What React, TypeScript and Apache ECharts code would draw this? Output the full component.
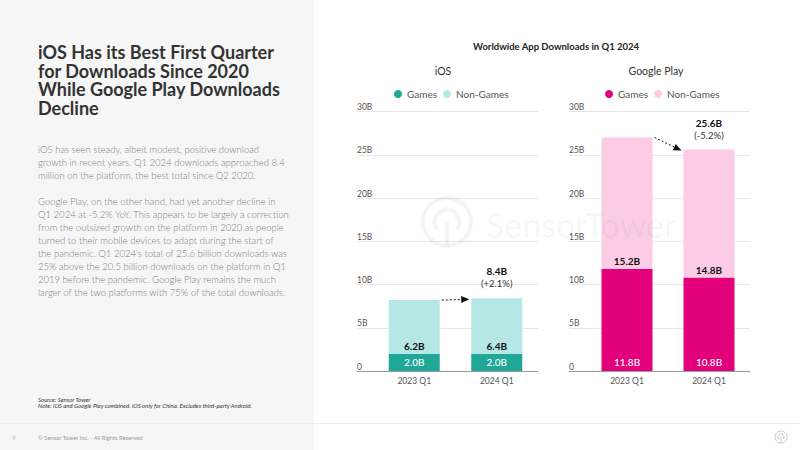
import React, { useEffect, useRef } from 'react';
import * as echarts from 'echarts';

const categories = ['2023 Q1', '2024 Q1'];
const iosGames = [2.0, 2.0];
const iosNonGames = [6.2, 6.4];
const iosChange = '+2.1%';
const gpGames = [11.8, 10.8];
const gpNonGames = [15.2, 14.8];
const gpChange = '-5.2%';
const yMin = 0;
const yMax = 30;
const yInterval = 5;

const titleLines = [
  'iOS Has its Best First Quarter',
  'for Downloads Since 2020',
  'While Google Play Downloads',
  'Decline',
];
const para1 = [
  'iOS has seen steady, albeit modest, positive download',
  'growth in recent years. Q1 2024 downloads approached 8.4',
  'million on the platform, the best total since Q2 2020.',
];
const para2 = [
  'Google Play, on the other hand, had yet another decline in',
  'Q1 2024 at -5.2% YoY. This appears to be largely a correction',
  'from the outsized growth on the platform in 2020 as people',
  'turned to their mobile devices to adapt during the start of',
  "the pandemic. Q1 2024's total of 25.6 billion downloads was",
  '25% above the 20.5 billion downloads on the platform in Q1',
  '2019 before the pandemic. Google Play remains the much',
  'larger of the two platforms with 75% of the total downloads.',
];
const notes = [
  'Source: Sensor Tower',
  'Note: iOS and Google Play combined. iOS only for China. Excludes third-party Android.',
];

const FONT = 'Lato, "Noto Sans", sans-serif';
const BAR_W = 51;
const PLOT_TOP = 111.5;
const PLOT_H = 259.5;

const colors = {
  iosGames: '#1fa898',
  iosNon: '#b5e8e4',
  gpGames: '#e2007b',
  gpNon: '#fccce6',
};

function yAxisVisible(gridIndex: number) {
  return {
    type: 'value',
    gridIndex,
    min: yMin,
    max: yMax,
    interval: yInterval,
    axisLine: { show: false },
    axisTick: { show: false },
    splitLine: { lineStyle: { color: '#e6e6e6', width: 1 } },
    axisLabel: {
      inside: true,
      margin: 0,
      align: 'left',
      verticalAlign: 'bottom',
      color: '#555',
      fontSize: 8.5,
      fontFamily: FONT,
      formatter: (v: number) => (v === 0 ? '0' : v + 'B'),
    },
  };
}
function yAxisHidden(gridIndex: number) {
  return {
    type: 'value',
    gridIndex,
    min: yMin,
    max: yMax,
    interval: yInterval,
    show: false,
    splitLine: { show: false },
  };
}
function xAxisBase(gridIndex: number) {
  return {
    type: 'category',
    gridIndex,
    data: categories,
    axisTick: { show: false },
    axisLabel: { show: false },
    axisLine: { show: true, lineStyle: { color: '#9a9a9a', width: 1 } },
  };
}
function xAxisBars(gridIndex: number) {
  return {
    type: 'category',
    gridIndex,
    data: categories,
    axisTick: { show: false },
    axisLine: { show: false },
    axisLabel: { color: '#555', fontSize: 8.5, fontFamily: FONT, margin: 5 },
  };
}

function barSeries(name: string, stack: string, axis: number, data: number[], color: string, games: boolean) {
  return {
    type: 'bar',
    name,
    stack,
    xAxisIndex: axis,
    yAxisIndex: axis,
    barWidth: BAR_W,
    data,
    itemStyle: { color },
    label: {
      show: true,
      position: 'insideBottom',
      distance: games ? 4 : 3,
      color: games ? '#fff' : '#111',
      fontWeight: games ? 500 : 'bold',
      fontSize: 10,
      fontFamily: FONT,
      formatter: (p: any) => Number(p.value).toFixed(1) + 'B',
    },
  };
}

function arrowSeries(axis: number, games: number[], non: number[], change: string) {
  const totals = games.map((g, i) => g + non[i]);
  return {
    type: 'custom',
    xAxisIndex: axis,
    yAxisIndex: axis,
    silent: true,
    z: 10,
    clip: false,
    data: [[0, totals[0], 1, totals[1]]],
    renderItem: (_params: any, api: any) => {
      const p0 = api.coord([api.value(0), api.value(1)]);
      const p1 = api.coord([api.value(2), api.value(3)]);
      const half = BAR_W / 2;
      const x0 = p0[0] + half + 2;
      const y0 = p0[1];
      const x1 = p1[0] - half - 2;
      const y1 = p1[1] + 1;
      const ang = Math.atan2(y1 - y0, x1 - x0);
      const L = 8;
      const W = 3.5;
      const c = Math.cos(ang);
      const s = Math.sin(ang);
      const bx = x1 - L * c;
      const by = y1 - L * s;
      return {
        type: 'group',
        children: [
          {
            type: 'line',
            shape: { x1: x0, y1: y0, x2: bx, y2: by },
            style: { stroke: '#111', lineWidth: 1, lineDash: [2, 2] },
          },
          {
            type: 'polygon',
            shape: { points: [[x1, y1], [bx - W * s, by + W * c], [bx + W * s, by - W * c]] },
            style: { fill: '#111' },
          },
          {
            type: 'text',
            x: p1[0],
            y: p1[1] - 27,
            style: {
              text: totals[1].toFixed(1) + 'B',
              fill: '#111',
              fontWeight: 'bold',
              fontSize: 10,
              fontFamily: FONT,
              align: 'center',
              verticalAlign: 'middle',
            },
          },
          {
            type: 'text',
            x: p1[0],
            y: p1[1] - 14.5,
            style: {
              text: '(' + change + ')',
              fill: '#333',
              fontSize: 9.5,
              fontFamily: FONT,
              align: 'center',
              verticalAlign: 'middle',
            },
          },
        ],
      };
    },
  };
}

function logo(cx: number, cy: number, r: number, stroke: string, lw: number, z: number) {
  return [
    { type: 'circle', z, silent: true, shape: { cx, cy, r }, style: { fill: 'none', stroke, lineWidth: lw } },
    {
      type: 'arc',
      z,
      silent: true,
      shape: { cx, cy, r: r * 0.52, startAngle: Math.PI * 0.78, endAngle: Math.PI * 2.22, clockwise: true },
      style: { fill: 'none', stroke, lineWidth: lw },
    },
    { type: 'line', z, silent: true, shape: { x1: cx, y1: cy, x2: cx, y2: cy + r }, style: { stroke, lineWidth: lw } },
  ];
}

function lineTexts(lines: string[], x: number, yCenter0: number, lh: number, size: number, color: string, extra: any = {}) {
  return lines.map((t, i) => ({
    type: 'text',
    x,
    y: yCenter0 + i * lh,
    z: 5,
    silent: true,
    style: {
      text: t,
      fill: color,
      fontSize: size,
      lineHeight: lh,
      fontFamily: FONT,
      verticalAlign: 'middle',
      align: 'left',
      ...extra,
    },
  }));
}

export default function App() {
  const ref = useRef<HTMLDivElement>(null);
  useEffect(() => {
    if (!ref.current) return;
    const chart = echarts.init(ref.current, null, { renderer: 'svg' });
    const option: any = {
      animation: false,
      backgroundColor: '#ffffff',
      textStyle: { fontFamily: FONT },
      title: [
        {
          text: 'Worldwide App Downloads in Q1 2024',
          left: 556,
          textAlign: 'center',
          top: 41,
          padding: 0,
          textStyle: { fontSize: 9.5, fontWeight: 'bold', color: '#222', fontFamily: FONT },
        },
        {
          text: 'iOS',
          left: 443,
          textAlign: 'center',
          top: 65,
          padding: 0,
          textStyle: { fontSize: 10.5, fontWeight: 'normal', color: '#333', fontFamily: FONT },
        },
        {
          text: 'Google Play',
          left: 656,
          textAlign: 'center',
          top: 65,
          padding: 0,
          textStyle: { fontSize: 10.5, fontWeight: 'normal', color: '#333', fontFamily: FONT },
        },
      ],
      legend: [
        {
          data: ['iOS|Games', 'iOS|Non-Games'],
          left: 394,
          top: 89,
          padding: 0,
          icon: 'circle',
          itemWidth: 8,
          itemHeight: 8,
          itemGap: 6,
          selectedMode: false,
          formatter: (n: string) => n.split('|')[1],
          textStyle: { fontSize: 10, color: '#555', fontFamily: FONT },
        },
        {
          data: ['GP|Games', 'GP|Non-Games'],
          left: 605,
          top: 89,
          padding: 0,
          icon: 'circle',
          itemWidth: 8,
          itemHeight: 8,
          itemGap: 6,
          selectedMode: false,
          formatter: (n: string) => n.split('|')[1],
          textStyle: { fontSize: 10, color: '#555', fontFamily: FONT },
        },
      ],
      grid: [
        { left: 357, width: 181, top: PLOT_TOP, height: PLOT_H },
        { left: 373, width: 165, top: PLOT_TOP, height: PLOT_H },
        { left: 569, width: 181, top: PLOT_TOP, height: PLOT_H },
        { left: 586, width: 164, top: PLOT_TOP, height: PLOT_H },
      ],
      xAxis: [xAxisBase(0), xAxisBars(1), xAxisBase(2), xAxisBars(3)],
      yAxis: [yAxisVisible(0), yAxisHidden(1), yAxisVisible(2), yAxisHidden(3)],
      series: [
        barSeries('iOS|Games', 'ios', 1, iosGames, colors.iosGames, true),
        barSeries('iOS|Non-Games', 'ios', 1, iosNonGames, colors.iosNon, false),
        arrowSeries(1, iosGames, iosNonGames, iosChange),
        barSeries('GP|Games', 'gp', 3, gpGames, colors.gpGames, true),
        barSeries('GP|Non-Games', 'gp', 3, gpNonGames, colors.gpNon, false),
        arrowSeries(3, gpGames, gpNonGames, gpChange),
      ],
      graphic: [
        { type: 'rect', z: -10, silent: true, shape: { x: 0, y: 0, width: 314, height: 450 }, style: { fill: '#f6f6f6' } },
        { type: 'line', z: -5, silent: true, shape: { x1: 0, y1: 423.5, x2: 800, y2: 423.5 }, style: { stroke: '#ebebeb', lineWidth: 1 } },
        ...lineTexts(titleLines, 38, 52, 18.5, 18, '#333', { fontWeight: 'bold' }),
        ...lineTexts(para1, 38, 149.3, 13, 9.5, '#7d7d7d', { fontWeight: 300 }),
        ...lineTexts(para2, 38, 201, 13, 9.5, '#7d7d7d', { fontWeight: 300 }),
        ...lineTexts(notes, 38, 399, 6.8, 6, '#333', { fontStyle: 'italic' }),
        { type: 'text', x: 12, y: 437, silent: true, style: { text: '9', fill: '#bbb', fontSize: 6.5, fontFamily: FONT, verticalAlign: 'middle' } },
        { type: 'text', x: 38, y: 437, silent: true, style: { text: '\u00A9 Sensor Tower Inc. - All Rights Reserved', fill: '#999', fontSize: 5.8, fontFamily: FONT, verticalAlign: 'middle' } },
        ...logo(781, 437, 6, '#c9c9c9', 1, 5),
        ...logo(447, 222, 24, 'rgba(0,0,0,0.045)', 4, 100),
        {
          type: 'text',
          z: 100,
          silent: true,
          x: 486,
          y: 224,
          style: { text: 'SensorTower', fill: 'rgba(0,0,0,0.045)', fontSize: 34, fontFamily: FONT, align: 'left', verticalAlign: 'middle' },
        },
      ],
    };
    chart.setOption(option);
    return () => chart.dispose();
  }, []);
  return <div ref={ref} style={{ position: 'fixed', left: 0, top: 0, width: 800, height: 450 }} />;
}
